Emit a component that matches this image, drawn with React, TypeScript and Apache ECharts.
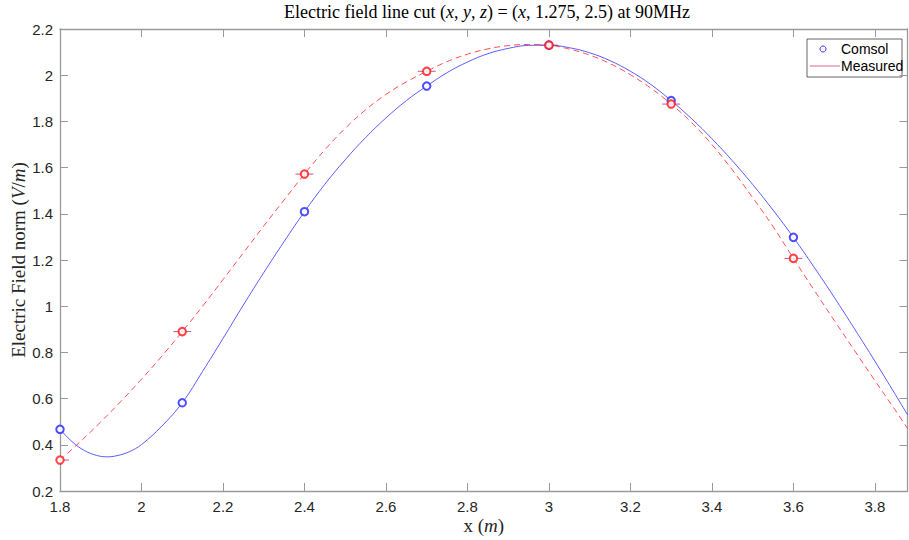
import React, { useEffect, useRef } from "react";
import * as echarts from "echarts";

// Sample locations (m)
const sampleX = [1.8, 2.1, 2.4, 2.7, 3.0, 3.3, 3.6];
// Comsol simulated field norm (V/m)
const comsolY = [0.467, 0.582, 1.409, 1.953, 2.13, 1.89, 1.298];
// Measured field norm (V/m)
const measuredY = [0.334, 0.89, 1.572, 2.017, 2.13, 1.875, 1.207];
// Error bar half-widths
const measuredXErr = [0.022, 0.022, 0.022, 0.022, 0.022, 0.022, 0.022];
const measuredYErr = [0.012, 0.014, 0.014, 0.014, 0.014, 0.014, 0.016];

// Fitted curves
const comsolCurveX = [1.8, 1.83, 1.86, 1.89, 1.915, 1.94, 1.97, 2.0, 2.05, 2.1, 2.15, 2.2, 2.25, 2.3, 2.35, 2.4, 2.45, 2.5, 2.55, 2.6, 2.65, 2.7, 2.75, 2.8, 2.85, 2.9, 2.95, 3.0, 3.05, 3.1, 3.15, 3.2, 3.25, 3.3, 3.35, 3.4, 3.45, 3.5, 3.55, 3.6, 3.65, 3.7, 3.75, 3.8, 3.85, 3.88];
const comsolCurveY = [0.467, 0.413, 0.375, 0.354, 0.348, 0.353, 0.37, 0.401, 0.481, 0.582, 0.718, 0.86, 1.005, 1.145, 1.28, 1.409, 1.528, 1.634, 1.73, 1.815, 1.89, 1.953, 2.011, 2.057, 2.093, 2.116, 2.129, 2.13, 2.119, 2.097, 2.063, 2.017, 1.96, 1.89, 1.812, 1.725, 1.63, 1.527, 1.416, 1.298, 1.171, 1.039, 0.902, 0.762, 0.618, 0.53];
const measuredCurveX = [1.8, 1.85, 1.9, 1.95, 2.0, 2.05, 2.1, 2.15, 2.2, 2.25, 2.3, 2.35, 2.4, 2.45, 2.5, 2.55, 2.6, 2.65, 2.7, 2.75, 2.8, 2.85, 2.9, 2.95, 3.0, 3.05, 3.1, 3.15, 3.2, 3.25, 3.3, 3.35, 3.4, 3.45, 3.5, 3.55, 3.6, 3.65, 3.7, 3.75, 3.8, 3.85, 3.88];
const measuredCurveY = [0.334, 0.414, 0.499, 0.589, 0.684, 0.784, 0.89, 1.0, 1.115, 1.231, 1.347, 1.46, 1.572, 1.677, 1.77, 1.85, 1.917, 1.971, 2.017, 2.059, 2.091, 2.114, 2.128, 2.133, 2.13, 2.113, 2.087, 2.05, 2.002, 1.944, 1.875, 1.795, 1.7, 1.59, 1.47, 1.345, 1.207, 1.072, 0.939, 0.808, 0.678, 0.55, 0.471];

const AXIS_COLOR = "#262626";
const LINE_GRAY = "#9a9a9a";
const SANS = "Liberation Sans";
const SERIF = "Liberation Serif";

export default function App() {
  const ref = useRef<HTMLDivElement>(null);
  useEffect(() => {
    if (!ref.current) return;
    const chart = echarts.init(ref.current, null, { renderer: "svg" });
    const comsolCurve = comsolCurveX.map((x, i) => [x, comsolCurveY[i]]);
    const measuredCurve = measuredCurveX.map((x, i) => [x, measuredCurveY[i]]);
    const comsolPts = sampleX.map((x, i) => [x, comsolY[i]]);
    const measuredPts = sampleX.map((x, i) => [x, measuredY[i]]);
    const errData = sampleX.map((x, i) => [x, measuredY[i], measuredXErr[i], measuredYErr[i]]);

    const axisCommon = {
      axisLine: { show: true, lineStyle: { color: LINE_GRAY, width: 1.3 } },
      axisTick: { show: true, inside: true, length: 8, lineStyle: { color: LINE_GRAY, width: 1 } },
      splitLine: { show: false },
    };

    chart.setOption({
      animation: false,
      backgroundColor: "#ffffff",
      grid: { left: 60, right: 1.5, top: 29, bottom: 49, containLabel: false, outerBoundsMode: "none" },
      xAxis: [
        {
          type: "value",
          min: 1.8,
          max: 3.88,
          interval: 0.2,
          ...axisCommon,
          axisLabel: { showMaxLabel: false, color: AXIS_COLOR, fontFamily: SANS, fontSize: 15, margin: 8 },
          name: "x ({i|m})",
          nameLocation: "middle",
          nameGap: 25,
          nameMoveOverlap: false,
          nameTextStyle: {
            color: AXIS_COLOR, fontFamily: SERIF, fontSize: 19,
            rich: { i: { fontStyle: "italic", fontFamily: SERIF, fontSize: 19, color: AXIS_COLOR } },
          },
        },
        {
          type: "value",
          position: "top",
          min: 1.8,
          max: 3.88,
          interval: 0.2,
          ...axisCommon,
          axisLabel: { show: false },
        },
      ],
      yAxis: [
        {
          type: "value",
          min: 0.2,
          max: 2.2,
          interval: 0.2,
          ...axisCommon,
          axisLabel: { color: AXIS_COLOR, fontFamily: SANS, fontSize: 15, margin: 7 },
          name: "Electric Field norm ({i|V}/{i|m})",
          nameLocation: "middle",
          nameGap: 32,
          nameRotate: 90,
          nameMoveOverlap: false,
          nameTextStyle: {
            color: AXIS_COLOR, fontFamily: SERIF, fontSize: 19,
            rich: { i: { fontStyle: "italic", fontFamily: SERIF, fontSize: 19, color: AXIS_COLOR } },
          },
        },
        {
          type: "value",
          position: "right",
          min: 0.2,
          max: 2.2,
          interval: 0.2,
          ...axisCommon,
          axisLabel: { show: false },
        },
      ],
      series: [
        {
          name: "Comsol fit",
          type: "line",
          data: comsolCurve,
          smooth: 0.4,
          showSymbol: false,
          lineStyle: { color: "#3f3fff", width: 1, opacity: 0.85 },
          z: 2,
        },
        {
          name: "Measured fit",
          type: "line",
          data: measuredCurve,
          smooth: 0.4,
          showSymbol: false,
          lineStyle: { color: "#ff3030", width: 1, type: [6, 4], opacity: 0.85 },
          z: 2,
        },
        {
          name: "Comsol",
          type: "scatter",
          data: comsolPts,
          symbol: "emptyCircle",
          symbolSize: 7.5,
          itemStyle: { color: "#3a3aff", borderWidth: 0.7, opacity: 0.9 },
          z: 3,
        },
        {
          name: "Measured",
          type: "custom",
          data: errData,
          clip: true,
          renderItem: (params: any, api: any) => {
            const x = api.value(0);
            const y = api.value(1);
            const dx = api.value(2);
            const dy = api.value(3);
            const l = api.coord([x - dx, y]);
            const r = api.coord([x + dx, y]);
            const t = api.coord([x, y + dy]);
            const b = api.coord([x, y - dy]);
            const style = { stroke: "#b8307e", lineWidth: 1, opacity: 0.85 };
            return {
              type: "group",
              children: [
                { type: "line", shape: { x1: l[0], y1: l[1], x2: r[0], y2: r[1] }, style },
                { type: "line", shape: { x1: t[0], y1: t[1], x2: b[0], y2: b[1] }, style },
              ],
            };
          },
          z: 4,
        },
        {
          name: "Measured points",
          type: "scatter",
          data: measuredPts,
          symbol: "emptyCircle",
          symbolSize: 7.5,
          itemStyle: { color: "#ff2020", borderWidth: 0.7, opacity: 0.85 },
          z: 5,
        },
      ],
      graphic: [
        {
          type: "text",
          x: 487,
          y: 12,
          style: {
            text: "Electric field line cut ({i|x}, {i|y}, {i|z}) = ({i|x}, 1.275, 2.5) at 90MHz",
            font: `18px "${SERIF}"`,
            fill: "#000000",
            align: "center",
            verticalAlign: "middle",
            rich: { i: { fontStyle: "italic", fontFamily: SERIF, fontSize: 18, fill: "#000000" } },
          },
        },
        {
          type: "group",
          z: 100,
          children: [
            { type: "rect", shape: { x: 807, y: 39, width: 95, height: 38 }, style: { fill: "#ffffff", stroke: "#404040", lineWidth: 0.8 } },
            { type: "circle", shape: { cx: 823, cy: 49, r: 3 }, style: { fill: "none", stroke: "#2f2fff", lineWidth: 1 } },
            { type: "text", x: 841, y: 49, style: { text: "Comsol", font: `14px "${SANS}"`, fill: "#000000", verticalAlign: "middle" } },
            { type: "line", shape: { x1: 810, y1: 66, x2: 840, y2: 66 }, style: { stroke: "#e0609f", lineWidth: 1 } },
            { type: "text", x: 841, y: 66, style: { text: "Measured", font: `14px "${SANS}"`, fill: "#000000", verticalAlign: "middle" } },
          ],
        },
      ],
    });
    return () => chart.dispose();
  }, []);
  return (
    <div
      ref={ref}
      style={{ position: "fixed", left: 0, top: 0, width: 909, height: 540, background: "#fff" }}
    />
  );
}
